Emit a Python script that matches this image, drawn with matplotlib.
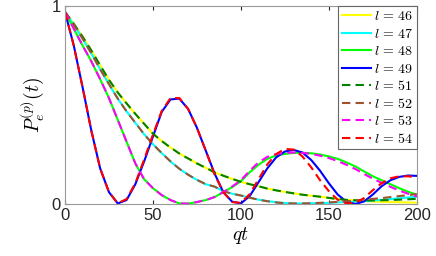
import matplotlib
matplotlib.use('Agg')
import matplotlib.pyplot as plt
import numpy as np

# sample times (qt) and curves
qt = np.arange(0, 201, 5)

p46 = [0.97, 0.91, 0.845, 0.775, 0.70, 0.627, 0.563, 0.508, 0.455, 0.405,
       0.355, 0.318, 0.285, 0.255, 0.23, 0.205, 0.183, 0.16, 0.143, 0.127,
       0.112, 0.10, 0.09, 0.078, 0.069, 0.061, 0.054, 0.047, 0.042, 0.037,
       0.031, 0.026, 0.021, 0.018, 0.015, 0.013, 0.011, 0.010, 0.009, 0.008,
       0.007]
p47 = [0.97, 0.905, 0.835, 0.76, 0.68, 0.605, 0.532, 0.468, 0.41, 0.352,
       0.302, 0.257, 0.215, 0.178, 0.148, 0.122, 0.10, 0.088, 0.065, 0.052,
       0.043, 0.032, 0.022, 0.015, 0.009, 0.005, 0.003, 0.003, 0.004, 0.005,
       0.006, 0.008, 0.010, 0.012, 0.015, 0.018, 0.021, 0.025, 0.029, 0.033,
       0.037]
p48 = [0.97, 0.885, 0.80, 0.72, 0.63, 0.535, 0.425, 0.315, 0.205, 0.125,
       0.08, 0.045, 0.02, 0.003, 0.002, 0.01, 0.02, 0.035, 0.06, 0.085,
       0.115, 0.16, 0.198, 0.228, 0.245, 0.253, 0.258, 0.259, 0.256, 0.25,
       0.24, 0.228, 0.21, 0.19, 0.165, 0.14, 0.12, 0.10, 0.08, 0.062,
       0.047]
p49 = [0.97, 0.80, 0.59, 0.37, 0.18, 0.06, 0.003, 0.02, 0.10, 0.215,
       0.34, 0.465, 0.528, 0.532, 0.48, 0.385, 0.27, 0.155, 0.06, 0.012,
       0.003, 0.04, 0.11, 0.18, 0.235, 0.265, 0.273, 0.26, 0.222, 0.168,
       0.105, 0.048, 0.012, 0.0, 0.013, 0.048, 0.09, 0.12, 0.137, 0.144,
       0.142]
p51 = [0.97, 0.91, 0.845, 0.775, 0.70, 0.627, 0.563, 0.508, 0.455, 0.405,
       0.355, 0.318, 0.285, 0.255, 0.23, 0.205, 0.183, 0.16, 0.143, 0.127,
       0.112, 0.10, 0.09, 0.078, 0.069, 0.061, 0.054, 0.047, 0.042, 0.037,
       0.031, 0.025, 0.021, 0.019, 0.018, 0.018, 0.019, 0.020, 0.022, 0.024,
       0.026]
p52 = [0.97, 0.905, 0.835, 0.76, 0.68, 0.605, 0.532, 0.468, 0.41, 0.352,
       0.302, 0.257, 0.215, 0.178, 0.148, 0.122, 0.10, 0.088, 0.065, 0.052,
       0.043, 0.032, 0.022, 0.014, 0.008, 0.004, 0.003, 0.003, 0.004, 0.006,
       0.008, 0.011, 0.014, 0.018, 0.022, 0.026, 0.030, 0.035, 0.040, 0.045,
       0.050]
p53 = [0.97, 0.885, 0.80, 0.72, 0.63, 0.535, 0.425, 0.315, 0.205, 0.125,
       0.08, 0.045, 0.02, 0.003, 0.002, 0.01, 0.02, 0.035, 0.06, 0.088,
       0.12, 0.168, 0.21, 0.238, 0.252, 0.258, 0.26, 0.258, 0.253, 0.244,
       0.232, 0.217, 0.198, 0.177, 0.152, 0.128, 0.107, 0.087, 0.068, 0.052,
       0.038]
p54 = [0.97, 0.80, 0.59, 0.37, 0.18, 0.06, 0.004, 0.025, 0.105, 0.225,
       0.35, 0.47, 0.535, 0.535, 0.48, 0.385, 0.27, 0.15, 0.06, 0.01,
       0.006, 0.05, 0.125, 0.20, 0.252, 0.278, 0.275, 0.24, 0.185, 0.12,
       0.065, 0.022, 0.003, 0.006, 0.03, 0.07, 0.105, 0.13, 0.14, 0.14,
       0.135]

labels = ['46', '47', '48', '49', '51', '52', '53', '54']
series = [p46, p47, p48, p49, p51, p52, p53, p54]
colors = ['#ffff00', '#00ffff', '#00ff00', '#0000ff',
          '#008000', '#a0522d', '#ff00ff', '#ff0000']
styles = ['-', '-', '-', '-', '--', '--', '--', '--']

plt.rcParams['font.family'] = ['Liberation Sans', 'DejaVu Sans']
plt.rcParams['mathtext.fontset'] = 'cm'

fig = plt.figure(figsize=(4.36, 2.56), dpi=100)
ax = fig.add_axes([0.149, 0.203, 0.807, 0.774])

for y, c, s, lab in zip(series, colors, styles, labels):
    line, = ax.plot(qt, y, color=c, linestyle=s, linewidth=1.5,
                    label=r'$l\,=\,%s$' % lab)
    if s == '--':
        line.set_dashes((4, 2.5))

ax.set_xlim(0, 200)
ax.set_ylim(0, 1)
ax.set_xticks([0, 50, 100, 150, 200])
ax.set_yticks([0, 1])
ax.tick_params(direction='in', length=3, labelsize=12, colors='0.15',
               top=True, right=True, pad=3)
for sp in ax.spines.values():
    sp.set_color('0.6')
    sp.set_linewidth(0.8)

ax.set_xlabel(r'$qt$', fontsize=14, labelpad=1)
ax.set_ylabel(r'$P_e^{(p)}(t)$', fontsize=14, labelpad=4)

leg = ax.legend(loc='upper right', fontsize=10, handlelength=2.1,
                handletextpad=0.2, labelspacing=0.25, borderpad=0.25,
                borderaxespad=0, fancybox=False, framealpha=1)
leg.get_frame().set_edgecolor('0.4')
leg.get_frame().set_linewidth(0.8)

fig.savefig('out.png', dpi=100)
